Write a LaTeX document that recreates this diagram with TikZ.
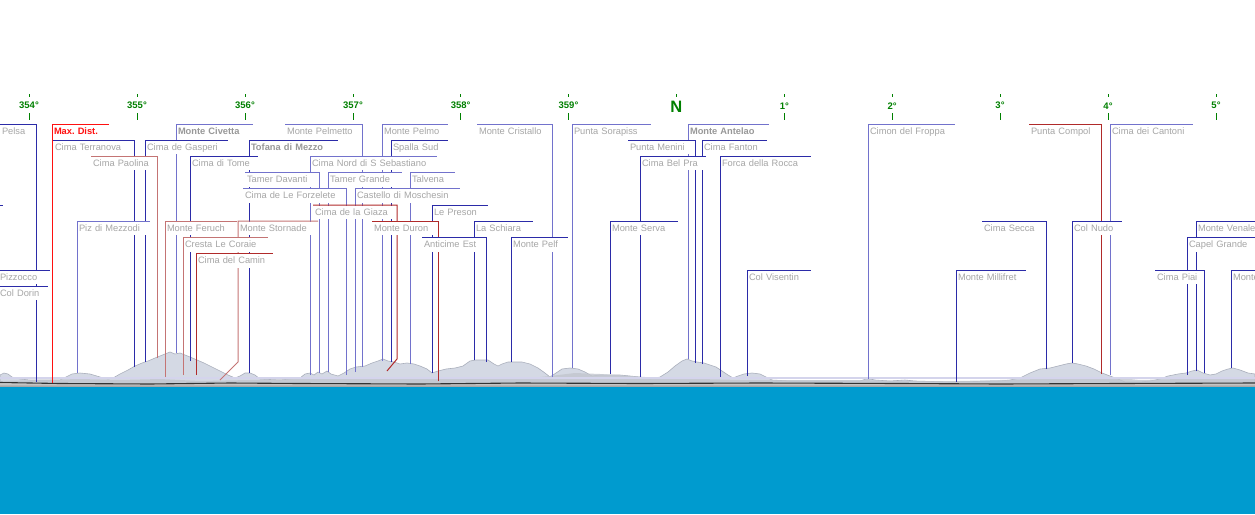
\documentclass[tikz,border=0pt]{standalone}
\usepackage{fontspec}
\setmainfont{Liberation Sans}
\usepackage{tikz}
\usetikzlibrary{positioning}
\pgfdeclarelayer{bg}
\pgfsetlayers{bg,main}
\frenchspacing
\definecolor{peakblue}{HTML}{2B2BA8}
\definecolor{peaklight}{HTML}{7272CC}
\definecolor{peakred}{HTML}{B02A2A}
\definecolor{peakrose}{HTML}{C47474}
\definecolor{maxred}{HTML}{FF1010}
\definecolor{peaktext}{HTML}{A6A6A6}
\definecolor{peaktextb}{HTML}{989898}
\definecolor{scalegreen}{HTML}{008000}
\definecolor{seablue}{HTML}{009BCF}
\definecolor{ridgefill}{HTML}{D4D9E4}
\definecolor{ridgeline}{HTML}{A9AEBB}
\definecolor{ridgelow}{HTML}{C2C6CE}
\definecolor{skyline}{HTML}{D4D4EC}

\begin{document}
\begin{tikzpicture}[x=1pt, y=-1pt,
  every node/.style={font=\fontsize{9.3}{10}\selectfont},
  lbl/.style={anchor=north west, fill=white, outer sep=0.7pt, inner xsep=1.3pt,
              inner ysep=2pt, text height=7.3pt, text depth=2.2pt,
              text=peaktext, align=left, text width=#1pt},
  lblb/.style={lbl=#1, font=\fontsize{9.3}{10}\selectfont\bfseries, text=peaktextb},
  bluepk/.style={draw=peakblue, line width=1pt},
  lightpk/.style={draw=peaklight, line width=1pt},
  redpk/.style={draw=peakred, line width=1pt},
  rosepk/.style={draw=peakrose, line width=1pt},
  maxpk/.style={draw=maxred, line width=1pt},
  deg/.style={font=\fontsize{9.5}{10}\selectfont\bfseries, text=scalegreen, inner sep=0pt},
  tick/.style={draw=scalegreen, line width=1pt},
]
  \useasboundingbox (0,0) rectangle (1255,514);

  % compass scale
  \node[deg] (d354) at (29,105.7)  {354°};
  \node[deg] (d355) at (137,105.7) {355°};
  \node[deg] (d356) at (245,105.7) {356°};
  \node[deg] (d357) at (353,105.7) {357°};
  \node[deg] (d358) at (460.6,105.7) {358°};
  \node[deg] (d359) at (568.5,105.7) {359°};
  \node[deg, font=\fontsize{16.5}{17}\selectfont\bfseries] (dN) at (676.4,106.5) {N};
  \node[deg] (d1) at (784.3,105.7)  {1°};
  \node[deg] (d2) at (892.2,105.7)  {2°};
  \node[deg] (d3) at (1000,105.7)   {3°};
  \node[deg] (d4) at (1108,105.7)   {4°};
  \node[deg] (d5) at (1216,105.7)   {5°};
  \draw[tick] (29,94) -- (29,97) (29,113) -- (29,120);
  \draw[tick] (137,94) -- (137,97) (137,113) -- (137,120);
  \draw[tick] (245,94) -- (245,97) (245,113) -- (245,120);
  \draw[tick] (353,94) -- (353,97) (353,113) -- (353,120);
  \draw[tick] (460.6,94) -- (460.6,97) (460.6,113) -- (460.6,120);
  \draw[tick] (568.5,94) -- (568.5,97) (568.5,113) -- (568.5,120);
  \draw[tick] (676.4,94) -- (676.4,97);
  \draw[tick] (784.3,94) -- (784.3,97) (784.3,113) -- (784.3,120);
  \draw[tick] (892.2,94) -- (892.2,97) (892.2,113) -- (892.2,120);
  \draw[tick] (1000,94) -- (1000,97) (1000,113) -- (1000,120);
  \draw[tick] (1108,94) -- (1108,97) (1108,113) -- (1108,120);
  \draw[tick] (1216,94) -- (1216,97) (1216,113) -- (1216,120);

  % labels, row by row
  \node[lbl=32.5] (pelsa) at (0,124) {Pelsa};
  \node[lbl=53, font=\fontsize{9.3}{10}\selectfont\bfseries, text=maxred] (maxdist) at (52,124) {Max. Dist.};
  \node[lblb=73] (civetta) at (176,124) {Monte Civetta};
  \node[lbl=73] (pelmetto) at (285,124) {Monte Pelmetto};
  \node[lbl=62] (pelmo) at (382,124) {Monte Pelmo};
  \node[lbl=71] (cristallo) at (477,124) {Monte Cristallo};
  \node[lbl=75] (sorapiss) at (572,124) {Punta Sorapiss};
  \node[lblb=77] (antelao) at (688,124) {Monte Antelao};
  \node[lbl=83] (froppa) at (868,124) {Cimon del Froppa};
  \node[lbl=68] (compol) at (1029,124) {Punta Compol};
  \node[lbl=79] (cantoni) at (1110,124) {Cima dei Cantoni};

  \node[lbl=77] (terranova) at (53,140) {Cima Terranova};
  \node[lbl=79] (gasperi) at (145,140) {Cima de Gasperi};
  \node[lblb=85] (tofana) at (249,140) {Tofana di Mezzo};
  \node[lbl=53] (spalla) at (391,140) {Spalla Sud};
  \node[lbl=63] (menini) at (628,140) {Punta Menini};
  \node[lbl=61] (fanton) at (702,140) {Cima Fanton};

  \node[lbl=62] (paolina) at (91,156) {Cima Paolina};
  \node[lbl=64] (tome) at (190,156) {Cima di Tome};
  \node[lbl=123] (cnord) at (310,156) {Cima Nord di S Sebastiano};
  \node[lbl=62] (belpra) at (640,156) {Cima Bel Pra};
  \node[lbl=87] (rocca) at (720,156) {Forca della Rocca};

  \node[lbl=70] (tdavanti) at (245,172.5) {Tamer Davanti};
  \node[lbl=70] (tgrande) at (328,172.5) {Tamer Grande};
  \node[lbl=41] (talvena) at (410,172.5) {Talvena};

  \node[lbl=99] (forzelete) at (243,188.5) {Cima de Le Forzelete};
  \node[lbl=101] (moschesin) at (355,188.5) {Castello di Moschesin};

  \node[lbl=80] (giaza) at (313,205) {Cima de la Giaza};
  \node[lbl=52] (preson) at (432,205) {Le Preson};

  \node[lbl=69] (mezzodi) at (77,221) {Piz di Mezzodi};
  \node[lbl=68] (feruch) at (165,221) {Monte Feruch};
  \node[lbl=76] (stornade) at (238,221) {Monte Stornade};
  \node[lbl=62] (duron) at (372,221) {Monte Duron};
  \node[lbl=55] (schiara) at (474,221) {La Schiara};
  \node[lbl=64] (serva) at (610,221) {Monte Serva};
  \node[lbl=60] (secca) at (982,221) {Cima Secca};
  \node[lbl=46] (nudo) at (1072,221) {Col Nudo};
  \node[lbl=80] (venale) at (1196,221) {Monte Venale};

  \node[lbl=81] (coraie) at (183,237.5) {Cresta Le Coraie};
  \node[lbl=60] (anticime) at (422,237.5) {Anticime Est};
  \node[lbl=53] (pelf) at (511,237.5) {Monte Pelf};
  \node[lbl=89] (capel) at (1187,237.5) {Capel Grande};

  \node[lbl=73] (camin) at (196,253.5) {Cima del Camin};

  \node[lbl=48] (pizzocco) at (-2,270) {Pizzocco};
  \node[lbl=60] (visentin) at (747,270) {Col Visentin};
  \node[lbl=66] (millifret) at (956,270) {Monte Millifret};
  \node[lbl=45] (piai) at (1155,270) {Cima Piai};
  \node[lbl=56] (monter) at (1231,270) {Monte};

  \node[lbl=46] (dorin) at (-2,286) {Col Dorin};

  % summits
  \coordinate (pelsa-pk) at (36.5,382);
  \coordinate (maxdist-pk) at (52,383);
  \coordinate (civetta-pk) at (176,353);
  \coordinate (pelmetto-pk) at (362,367);
  \coordinate (pelmo-pk) at (382,361);
  \coordinate (cristallo-pk) at (552,377);
  \coordinate (sorapiss-pk) at (572,368);
  \coordinate (antelao-pk) at (688,359);
  \coordinate (froppa-pk) at (868,379);
  \coordinate (compol-pk) at (1101,374);
  \coordinate (cantoni-pk) at (1110,375);
  \coordinate (terranova-pk) at (134,367);
  \coordinate (gasperi-pk) at (145,362);
  \coordinate (tofana-pk) at (249,373);
  \coordinate (spalla-pk) at (391,362);
  \coordinate (menini-pk) at (695,363);
  \coordinate (fanton-pk) at (702,364);
  \coordinate (paolina-pk) at (157,358);
  \coordinate (tome-pk) at (190,361);
  \coordinate (cnord-pk) at (310,375);
  \coordinate (belpra-pk) at (640,377);
  \coordinate (rocca-pk) at (720,377);
  \coordinate (tdavanti-pk) at (319,373);
  \coordinate (tgrande-pk) at (328,372);
  \coordinate (talvena-pk) at (410,364);
  \coordinate (forzelete-pk) at (346,375);
  \coordinate (moschesin-pk) at (355,372);
  \coordinate (giaza-pk) at (387,371);
  \coordinate (preson-pk) at (432,373);
  \coordinate (mezzodi-pk) at (77,373);
  \coordinate (feruch-pk) at (165,377);
  \coordinate (stornade-pk) at (220,380);
  \coordinate (duron-pk) at (438,381);
  \coordinate (schiara-pk) at (474,360);
  \coordinate (serva-pk) at (610,374);
  \coordinate (secca-pk) at (1046,369);
  \coordinate (nudo-pk) at (1072,363);
  \coordinate (venale-pk) at (1196,371);
  \coordinate (coraie-pk) at (183,375);
  \coordinate (anticime-pk) at (486,362);
  \coordinate (pelf-pk) at (511,362);
  \coordinate (capel-pk) at (1187,375);
  \coordinate (camin-pk) at (196,375);
  \coordinate (visentin-pk) at (747,376);
  \coordinate (millifret-pk) at (956,382);
  \coordinate (piai-pk) at (1204,373);
  \coordinate (monter-pk) at (1231,368);

  \begin{pgfonlayer}{bg}
    % terrain
    \filldraw[fill=ridgefill, draw=ridgeline, line width=0.6pt] (0,386) -- plot coordinates {
      (0,375) (4,373) (8,374) (12,377) (20,379) (30,380) (45,380) (60,380) (66,377) (72,374)
      (80,373) (90,374) (100,377) (108,379) (113,378) (120,374) (128,370) (135,366) (142,363)
      (148,361) (155,358) (160,356) (165,354) (170,352) (175,354) (180,353) (185,355) (190,357)
      (197,360) (204,363) (212,367) (220,371) (228,375) (235,378) (240,376) (245,373) (250,373)
      (255,375) (260,379) (280,380) (300,378) (305,374) (310,373) (314,375) (318,372) (322,374)
      (327,371) (331,374) (338,376) (344,373) (350,369) (356,367) (365,366) (372,363) (378,361)
      (383,359) (388,361) (394,362) (400,364) (407,363) (414,364) (420,366) (427,369) (432,373)
      (438,371) (446,369) (455,368) (463,366) (470,361) (476,360) (482,360) (488,360) (494,364)
      (498,366) (502,364) (508,362) (515,362) (522,362) (530,364) (538,368) (545,373) (550,377)
      (556,373) (562,369) (570,368) (578,369) (585,372) (592,376) (600,375) (620,375) (640,377)
      (650,379) (660,377) (668,372) (675,366) (682,361) (687,359) (692,361) (697,362) (704,363)
      (710,365) (716,367) (722,371) (728,375) (733,378) (738,376) (744,374) (752,373) (760,374)
      (766,377) (772,380) (790,381) (860,381) (866,379) (870,379) (875,380) (890,381) (905,380)
      (915,381) (950,382) (1000,381) (1010,380) (1020,378) (1030,373) (1040,369) (1050,368)
      (1058,366) (1066,364) (1072,363) (1078,364) (1086,366) (1094,369) (1102,373) (1110,376)
      (1118,379) (1125,382) (1140,382) (1150,381) (1160,379) (1168,376) (1178,374) (1186,373)
      (1192,371) (1197,370) (1203,373) (1210,375) (1216,374) (1222,371) (1228,369) (1233,368)
      (1240,370) (1248,373) (1255,374)} -- (1255,386) -- cycle;
    \fill[ridgelow, opacity=0.8] (0,386) -- plot coordinates {
      (0,381) (40,380) (80,379) (120,380) (160,379) (200,381) (250,380) (300,379) (350,378)
      (400,377) (430,378) (470,377) (520,379) (550,376) (575,373) (600,374) (630,376) (660,378)
      (700,379) (740,380) (800,380) (860,380) (900,381) (960,381) (1000,380) (1040,379)
      (1080,377) (1110,377) (1140,380) (1180,379) (1220,378) (1255,378)} -- (1255,386) -- cycle;
    \draw[skyline, line width=1.2pt] (0,378) -- (1255,378);
    \shade[top color=gray!35, bottom color=gray!75] (0,383) rectangle (1255,386.5);
    \draw[black!80, line width=1.1pt] plot coordinates {
      (0,382.5) (60,383.5) (150,384) (230,383) (300,383.5) (420,384) (520,383) (640,383.5)
      (760,383) (900,383.5) (1000,384) (1120,383.5) (1255,383)};

    % summit lines
    \draw[bluepk] (pelsa-pk) |- (pelsa.north west);
    \draw[maxpk] (maxdist-pk) |- (maxdist.north east);
    \draw[lightpk] (civetta-pk) |- (civetta.north east);
    \draw[lightpk] (pelmetto-pk) |- (pelmetto.north west);
    \draw[lightpk] (pelmo-pk) |- (pelmo.north east);
    \draw[lightpk] (cristallo-pk) |- (cristallo.north west);
    \draw[lightpk] (sorapiss-pk) |- (sorapiss.north east);
    \draw[lightpk] (antelao-pk) |- (antelao.north east);
    \draw[lightpk] (froppa-pk) |- (froppa.north east);
    \draw[redpk] (compol-pk) |- (compol.north west);
    \draw[lightpk] (cantoni-pk) |- (cantoni.north east);
    \draw[bluepk] (terranova-pk) |- (terranova.north west);
    \draw[bluepk] (gasperi-pk) |- (gasperi.north east);
    \draw[bluepk] (tofana-pk) |- (tofana.north east);
    \draw[bluepk] (spalla-pk) |- (spalla.north east);
    \draw[bluepk] (menini-pk) |- (menini.north west);
    \draw[bluepk] (fanton-pk) |- (fanton.north east);
    \draw[rosepk] (paolina-pk) |- (paolina.north west);
    \draw[bluepk] (tome-pk) |- (tome.north east);
    \draw[lightpk] (cnord-pk) |- (cnord.north east);
    \draw[bluepk] (belpra-pk) |- (belpra.north east);
    \draw[bluepk] (rocca-pk) |- (rocca.north east);
    \draw[lightpk] (tdavanti-pk) |- (tdavanti.north west);
    \draw[lightpk] (tgrande-pk) |- (tgrande.north east);
    \draw[lightpk] (talvena-pk) |- (talvena.north east);
    \draw[lightpk] (forzelete-pk) |- (forzelete.north west);
    \draw[lightpk] (moschesin-pk) |- (moschesin.north east);
    \draw[redpk] (giaza-pk) -- ++(10,-12) |- (giaza.north west);
    \draw[bluepk] (preson-pk) |- (preson.north east);
    \draw[lightpk] (mezzodi-pk) |- (mezzodi.north east);
    \draw[rosepk] (feruch-pk) |- (feruch.north east);
    \draw[rosepk] (stornade-pk) -- ++(18,-18) |- (stornade.north east);
    \draw[redpk] (duron-pk) |- (duron.north west);
    \draw[bluepk] (schiara-pk) |- (schiara.north east);
    \draw[bluepk] (serva-pk) |- (serva.north east);
    \draw[bluepk] (secca-pk) |- (secca.north west);
    \draw[bluepk] (nudo-pk) |- (nudo.north east);
    \draw[bluepk] (venale-pk) |- (venale.north east);
    \draw[rosepk] (coraie-pk) |- (coraie.north east);
    \draw[bluepk] (anticime-pk) |- (anticime.north west);
    \draw[bluepk] (pelf-pk) |- (pelf.north east);
    \draw[bluepk] (capel-pk) |- (capel.north east);
    \draw[redpk] (camin-pk) |- (camin.north east);
    \draw[bluepk] (pizzocco.north west) -- (pizzocco.north east);
    \draw[bluepk] (visentin-pk) |- (visentin.north east);
    \draw[bluepk] (millifret-pk) |- (millifret.north east);
    \draw[bluepk] (piai-pk) |- (piai.north west);
    \draw[bluepk] (monter-pk) |- (monter.north east);
    \draw[bluepk] (dorin.north west) -- (dorin.north east);
    \draw[bluepk] (0,205) -- (2.5,205);
  \end{pgfonlayer}

  % sea
  \fill[seablue] (0,386.5) rectangle (1255,514);
\end{tikzpicture}
\end{document}
